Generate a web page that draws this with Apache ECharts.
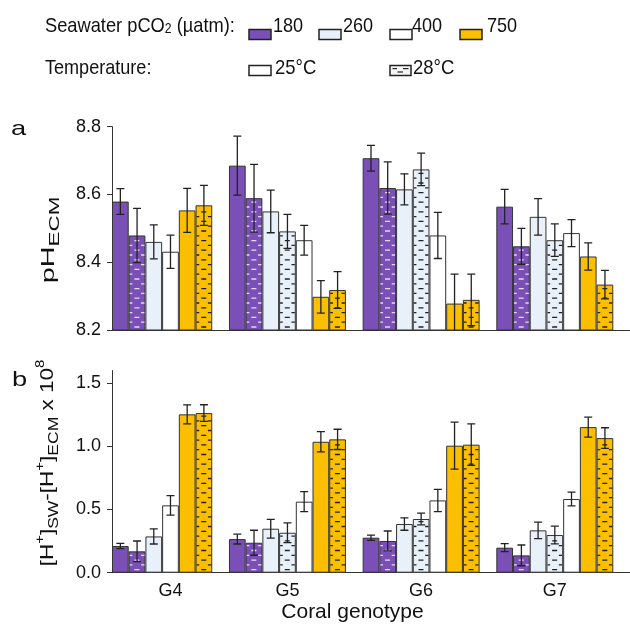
<!DOCTYPE html>
<html>
<head>
<meta charset="utf-8">
<script src="https://cdn.jsdelivr.net/npm/echarts@6/dist/echarts.min.js"></script>
</head>
<body style="margin:0; background:#fff">
<div id="main" style="width:630px; height:631px"></div>
<script>
// groups and conditions (pCO2 / temperature)
var groups = ['G4', 'G5', 'G6', 'G7'];
var pco2 = ['180', '180', '260', '260', '400', '750', '750'];
var temps = ['25°C', '28°C', '25°C', '28°C', '25°C', '25°C', '28°C'];

// panel a: pH ECM, mean and error per group (row) and condition (column)
var phMean = [
    [8.579, 8.479, 8.460, null, 8.431, 8.553, 8.568],
    [8.685, 8.589, 8.550, 8.491, 8.465, 8.298, 8.318],
    [8.707, 8.619, 8.615, 8.674, 8.479, 8.278, 8.289],
    [8.564, 8.447, 8.534, 8.465, 8.486, 8.417, 8.334]
];
var phErr = [
    [0.038, 0.080, 0.050, null, 0.049, 0.065, 0.059],
    [0.087, 0.100, 0.063, 0.050, 0.044, 0.048, 0.054],
    [0.038, 0.077, 0.046, 0.048, 0.068, 0.087, 0.076],
    [0.051, 0.053, 0.054, 0.048, 0.040, 0.040, 0.042]
];

// panel b: [H+]sw - [H+]ecm x 10^8
var hMean = [
    [0.211, 0.169, 0.287, null, 0.533, 1.253, 1.263],
    [0.266, 0.237, 0.348, 0.316, 0.562, 1.036, 1.055],
    [0.277, 0.251, 0.385, 0.425, 0.572, 1.005, 1.013],
    [0.198, 0.137, 0.335, 0.298, 0.583, 1.152, 1.065]
];
var hErr = [
    [0.021, 0.082, 0.060, null, 0.077, 0.075, 0.066],
    [0.039, 0.099, 0.074, 0.078, 0.079, 0.080, 0.080],
    [0.021, 0.079, 0.049, 0.046, 0.088, 0.186, 0.164],
    [0.032, 0.082, 0.065, 0.070, 0.055, 0.079, 0.082]
];

var phTicks = [8.2, 8.4, 8.6, 8.8];
var hTicks = [0, 0.5, 1.0, 1.5];
var legendPco2 = ['180', '260', '400', '750'];

var colors = {'180': '#7b50b6', '260': '#e8f0fa', '400': '#ffffff', '750': '#fbbf00'};
var dashColors = {'180': '#e4dcf2', '260': '#222', '400': '#222', '750': '#222'};
var FONT = 'Liberation Sans, Arial, sans-serif';

// one category slot per bar, plus an empty slot after each group
var slots = [], labelAt = {};
var barsA = [], barsB = [], errA = [], errB = [], hatchA = [], hatchB = [];
groups.forEach(function (g, gi) {
    labelAt[slots.length + 3] = g;
    pco2.forEach(function (p, ci) {
        if (phMean[gi][ci] == null) return;
        var idx = slots.length;
        slots.push(g + ' ' + p + ' ' + temps[ci]);
        var st = {color: colors[p], borderColor: '#333', borderWidth: 1};
        barsA.push({value: phMean[gi][ci], itemStyle: st});
        barsB.push({value: hMean[gi][ci], itemStyle: st});
        errA.push([idx, phMean[gi][ci], phErr[gi][ci]]);
        errB.push([idx, hMean[gi][ci], hErr[gi][ci]]);
        if (temps[ci] === '28°C') {
            hatchA.push([idx, phMean[gi][ci], phTicks[0], ci]);
            hatchB.push([idx, hMean[gi][ci], hTicks[0], ci]);
        }
    });
    slots.push(g + ' gap');
    barsA.push('-');
    barsB.push('-');
});

function renderErr(params, api) {
    var x = api.value(0), m = api.value(1), e = api.value(2);
    var top = api.coord([x, m + e]);
    var bot = api.coord([x, m - e]);
    var hw = 4;
    var st = {stroke: '#222', lineWidth: 1.3};
    return {type: 'group', children: [
        {type: 'line', shape: {x1: top[0], y1: top[1], x2: bot[0], y2: bot[1]}, style: st},
        {type: 'line', shape: {x1: top[0] - hw, y1: top[1], x2: top[0] + hw, y2: top[1]}, style: st},
        {type: 'line', shape: {x1: bot[0] - hw, y1: bot[1], x2: bot[0] + hw, y2: bot[1]}, style: st}
    ]};
}

// 28°C bars: staggered rows of short horizontal dashes
function renderHatch(params, api) {
    var x = api.value(0);
    var top = api.coord([x, api.value(1)]);
    var bot = api.coord([x, api.value(2)]);
    var w = api.size([1, 0])[0];
    var left = top[0] - w / 2;
    var c = dashColors[pco2[api.value(3)]];
    var kids = [], k = 0;
    for (var y = bot[1] - 3; y > top[1] + 2.5; y -= 4.8, k++) {
        var segs = k % 2 === 0 ? [[0.34, 0.64]] : [[0.06, 0.22], [0.74, 0.94]];
        for (var j = 0; j < segs.length; j++) {
            kids.push({type: 'rect', z2: 10,
                shape: {x: left + segs[j][0] * w, y: y - 0.65, width: (segs[j][1] - segs[j][0]) * w, height: 1.3},
                style: {fill: c}});
        }
    }
    return {type: 'group', children: kids};
}

var axisLine = {show: true, lineStyle: {color: '#333', width: 1}};
var yLabel = {color: '#111', fontSize: 18, fontFamily: FONT, margin: 11,
    formatter: function (v) { return v.toFixed(1); }};

// legend drawn with graphic elements
var graphics = [];
function txt(x, y, text, opts) {
    opts = opts || {};
    return {
        type: 'text', x: x, y: y, scaleX: opts.sx || 1, rotation: opts.rot || 0,
        style: {text: text, fontSize: opts.fs || 21, fontFamily: FONT, fill: '#111',
            textAlign: opts.align || 'left', textVerticalAlign: opts.va || 'middle', rich: opts.rich}
    };
}
graphics.push(txt(45, 26, 'Seawater pCO{s|2} (µatm):', {sx: 0.87,
    rich: {s: {fontSize: 14, fontFamily: FONT, fill: '#111', verticalAlign: 'bottom', lineHeight: 12}}}));
var boxX = [249, 319, 390, 460], labX = [273, 343, 412, 487];
legendPco2.forEach(function (p, i) {
    graphics.push({type: 'rect', shape: {x: boxX[i], y: 29.5, width: 22, height: 10},
        style: {fill: colors[p], stroke: '#222', lineWidth: 1.5}});
    graphics.push(txt(labX[i], 26, p, {sx: 0.86}));
});
graphics.push(txt(45, 68, 'Temperature:', {sx: 0.86}));
graphics.push({type: 'rect', shape: {x: 249, y: 65.5, width: 22, height: 10},
    style: {fill: '#fff', stroke: '#222', lineWidth: 1.5}});
graphics.push(txt(275, 68, '25°C', {sx: 0.88}));
graphics.push({type: 'rect', shape: {x: 390, y: 65.5, width: 21, height: 10},
    style: {fill: '#f4f4f4', stroke: '#222', lineWidth: 1.5}});
[[392.5, 68.6, 397], [403, 68.6, 408.5], [397.5, 72, 403]].forEach(function (d) {
    graphics.push({type: 'line', shape: {x1: d[0], y1: d[1], x2: d[2], y2: d[1]},
        style: {stroke: '#222', lineWidth: 1.2}});
});
graphics.push(txt(413, 68, '28°C', {sx: 0.88}));

// panel letters and axis names
graphics.push(txt(11, 129, 'a', {sx: 1.3}));
graphics.push(txt(12, 380, 'b', {sx: 1.3}));
var nameRich = {
    m: {fontSize: 18, fontFamily: FONT, fill: '#111', lineHeight: 26},
    s: {fontSize: 14, fontFamily: FONT, fill: '#111', lineHeight: 13, verticalAlign: 'bottom'},
    u: {fontSize: 12, fontFamily: FONT, fill: '#111', lineHeight: 12, verticalAlign: 'top'}
};
graphics.push(txt(49, 240, '{m|pH}{s|ECM}', {rot: Math.PI / 2, sx: 1.6, align: 'center', rich: nameRich}));
graphics.push(txt(48, 463, '{m|[H}{u|+}{m|]}{s|SW}{m|-[H}{u|+}{m|]}{s|ECM}{m| x 10}{u|8}',
    {rot: Math.PI / 2, sx: 1.25, align: 'center', rich: nameRich}));
graphics.push(txt(352.5, 612, 'Coral genotype', {fs: 21, align: 'center'}));

var chart = echarts.init(document.getElementById('main'));
chart.setOption({
    animation: false,
    backgroundColor: '#fff',
    grid: [
        {left: 112, right: 0, top: 126.7, height: 203.3},
        {left: 112, right: 0, top: 370.5, height: 202.2}
    ],
    xAxis: [
        {type: 'category', gridIndex: 0, data: slots, boundaryGap: true,
            axisLine: axisLine, axisTick: {show: false}, axisLabel: {show: false}},
        {type: 'category', gridIndex: 1, data: slots, boundaryGap: true,
            axisLine: axisLine, axisTick: {show: false},
            axisLabel: {color: '#111', fontSize: 18, fontFamily: FONT, margin: 9,
                interval: function (i) { return labelAt[i] != null; },
                formatter: function (v, i) { return labelAt[i] || ''; }}}
    ],
    yAxis: [
        {type: 'value', gridIndex: 0, min: 8.2, max: 8.8, interval: 0.2,
            axisLine: axisLine, splitLine: {show: false},
            axisTick: {show: true, length: 5, lineStyle: {color: '#333'}, customValues: phTicks},
            axisLabel: Object.assign({customValues: phTicks}, yLabel)},
        {type: 'value', gridIndex: 1, min: 0, max: 1.6, interval: 0.5,
            axisLine: axisLine, splitLine: {show: false},
            axisTick: {show: true, length: 5, lineStyle: {color: '#333'}, customValues: hTicks},
            axisLabel: Object.assign({customValues: hTicks}, yLabel)}
    ],
    series: [
        {type: 'bar', xAxisIndex: 0, yAxisIndex: 0, data: barsA, barWidth: '100%', barCategoryGap: '0%', z: 2},
        {type: 'bar', xAxisIndex: 1, yAxisIndex: 1, data: barsB, barWidth: '100%', barCategoryGap: '0%', z: 2},
        {type: 'custom', xAxisIndex: 0, yAxisIndex: 0, data: hatchA, renderItem: renderHatch,
            encode: {x: 0, y: 1}, clip: true, z: 4},
        {type: 'custom', xAxisIndex: 1, yAxisIndex: 1, data: hatchB, renderItem: renderHatch,
            encode: {x: 0, y: 1}, clip: true, z: 4},
        {type: 'custom', xAxisIndex: 0, yAxisIndex: 0, data: errA, renderItem: renderErr,
            encode: {x: 0, y: 1}, clip: true, z: 5},
        {type: 'custom', xAxisIndex: 1, yAxisIndex: 1, data: errB, renderItem: renderErr,
            encode: {x: 0, y: 1}, clip: true, z: 5}
    ],
    graphic: graphics
});
</script>
</body>
</html>
